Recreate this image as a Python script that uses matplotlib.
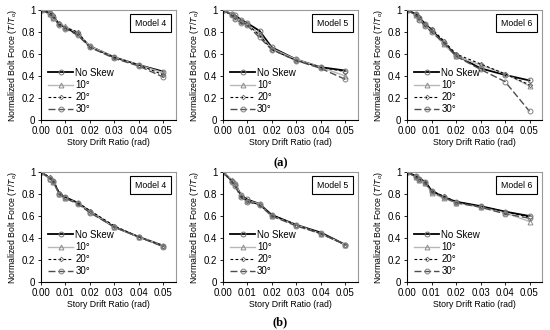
import matplotlib
matplotlib.use("Agg")
import matplotlib.pyplot as plt

plt.rcParams['font.family'] = ['Liberation Sans', 'DejaVu Sans']
plt.rcParams['mathtext.fontset'] = 'custom'
plt.rcParams['mathtext.rm'] = 'Liberation Sans'
plt.rcParams['mathtext.it'] = 'Liberation Sans:italic'

drift = [0, 0.00375, 0.005, 0.0075, 0.01, 0.015, 0.02, 0.03, 0.04, 0.05]
series_names = ["No Skew", "10°", "20°", "30°"]
models = ["Model 4", "Model 5", "Model 6"]

# row (a): rows are No Skew, 10, 20, 30 deg
a_model4 = [[1, 0.97, 0.94, 0.87, 0.84, 0.78, 0.67, 0.57, 0.50, 0.44],
            [1, 0.96, 0.93, 0.88, 0.85, 0.79, 0.67, 0.57, 0.50, 0.43],
            [1, 0.97, 0.95, 0.87, 0.84, 0.80, 0.66, 0.57, 0.50, 0.41],
            [1, 0.96, 0.93, 0.86, 0.83, 0.77, 0.66, 0.56, 0.49, 0.39]]
a_model5 = [[1, 0.96, 0.95, 0.91, 0.88, 0.81, 0.66, 0.55, 0.48, 0.45],
            [1, 0.96, 0.93, 0.90, 0.87, 0.78, 0.65, 0.55, 0.48, 0.40],
            [1, 0.95, 0.94, 0.89, 0.87, 0.77, 0.64, 0.54, 0.48, 0.44],
            [1, 0.95, 0.92, 0.88, 0.86, 0.75, 0.64, 0.54, 0.47, 0.37]]
a_model6 = [[1, 0.96, 0.93, 0.87, 0.82, 0.70, 0.59, 0.47, 0.41, 0.36],
            [1, 0.95, 0.92, 0.86, 0.81, 0.69, 0.58, 0.50, 0.42, 0.31],
            [1, 0.96, 0.94, 0.87, 0.83, 0.72, 0.60, 0.51, 0.42, 0.32],
            [1, 0.95, 0.91, 0.85, 0.80, 0.70, 0.58, 0.46, 0.35, 0.08]]

# row (b)
b_model4 = [[1, 0.94, 0.92, 0.80, 0.77, 0.72, 0.64, 0.50, 0.41, 0.33],
            [1, 0.94, 0.91, 0.80, 0.76, 0.72, 0.64, 0.50, 0.41, 0.33],
            [1, 0.95, 0.92, 0.81, 0.77, 0.72, 0.65, 0.51, 0.41, 0.33],
            [1, 0.94, 0.91, 0.80, 0.76, 0.71, 0.63, 0.50, 0.41, 0.32]]
b_model5 = [[1, 0.92, 0.89, 0.79, 0.75, 0.71, 0.61, 0.52, 0.45, 0.34],
            [1, 0.93, 0.90, 0.78, 0.74, 0.71, 0.60, 0.52, 0.44, 0.34],
            [1, 0.92, 0.88, 0.78, 0.74, 0.70, 0.61, 0.52, 0.44, 0.34],
            [1, 0.91, 0.87, 0.77, 0.73, 0.70, 0.60, 0.51, 0.44, 0.34]]
b_model6 = [[1, 0.96, 0.94, 0.91, 0.83, 0.77, 0.73, 0.69, 0.64, 0.60],
            [1, 0.95, 0.93, 0.90, 0.81, 0.76, 0.72, 0.68, 0.63, 0.55],
            [1, 0.96, 0.94, 0.91, 0.83, 0.78, 0.73, 0.69, 0.64, 0.59],
            [1, 0.95, 0.93, 0.90, 0.82, 0.77, 0.72, 0.68, 0.62, 0.58]]

styles = [
    dict(color='black', lw=1.3, ls='-', marker='o', ms=3.5, mfc='none', mec='0.45', mew=0.7),
    dict(color='0.72', lw=1.0, ls='-', marker='^', ms=3.5, mfc='none', mec='0.55', mew=0.7),
    dict(color='black', lw=0.8, ls=(0, (2.5, 2)), marker='D', ms=2.3, mfc='none', mec='0.4', mew=0.6),
    dict(color='0.3', lw=1.0, ls=(0, (5, 2)), marker='o', ms=3.5, mfc='none', mec='0.5', mew=0.7),
]

fig = plt.figure(figsize=(5.5, 3.3), dpi=100)
lefts = [0.0745, 0.405, 0.740]
bottoms = [0.636, 0.145]
w, h = 0.245, 0.334
rows = [[a_model4, a_model5, a_model6], [b_model4, b_model5, b_model6]]

for r, row in enumerate(rows):
    for c, data in enumerate(row):
        ax = fig.add_axes([lefts[c], bottoms[r], w, h])
        for vals, name, st in zip(data, series_names, styles):
            ax.plot(drift, vals, label=name, **st)
        ax.set_xlim(0, 0.055)
        ax.set_ylim(0, 1)
        ax.set_xticks([0, 0.01, 0.02, 0.03, 0.04, 0.05])
        ax.set_xticklabels(["0.00", "0.01", "0.02", "0.03", "0.04", "0.05"])
        ax.set_yticks([0, 0.2, 0.4, 0.6, 0.8, 1])
        ax.set_yticklabels(["0", "0.2", "0.4", "0.6", "0.8", "1"])
        ax.tick_params(labelsize=7, length=2, width=0.6, pad=2)
        for s in ['top', 'right']:
            ax.spines[s].set_color('0.6')
            ax.spines[s].set_linewidth(0.8)
        for s in ['left', 'bottom']:
            ax.spines[s].set_linewidth(0.8)
        ax.set_xlabel("Story Drift Ratio (rad)", fontsize=6.3, labelpad=1.5)
        ax.set_ylabel(r"Normalized Bolt Force ($T/T_o$)", fontsize=6.3, labelpad=2)
        ax.text(0.93, 0.88, models[c], transform=ax.transAxes, ha='right', va='center',
                fontsize=6.3,
                bbox=dict(boxstyle='square,pad=0.55', fc='white', ec='black', lw=0.8))
        ax.legend(loc='lower left', bbox_to_anchor=(0.01, 0.0), frameon=False,
                  fontsize=7, handlelength=2.6, handletextpad=0.2, labelspacing=0.22,
                  borderaxespad=0.2)

fig.text(0.51, 0.506, "(a)", ha='center', va='center', fontsize=9,
         family=['Liberation Serif'], fontweight='bold')
fig.text(0.51, 0.022, "(b)", ha='center', va='center', fontsize=9,
         family=['Liberation Serif'], fontweight='bold')

fig.savefig("out.png", dpi=100)
